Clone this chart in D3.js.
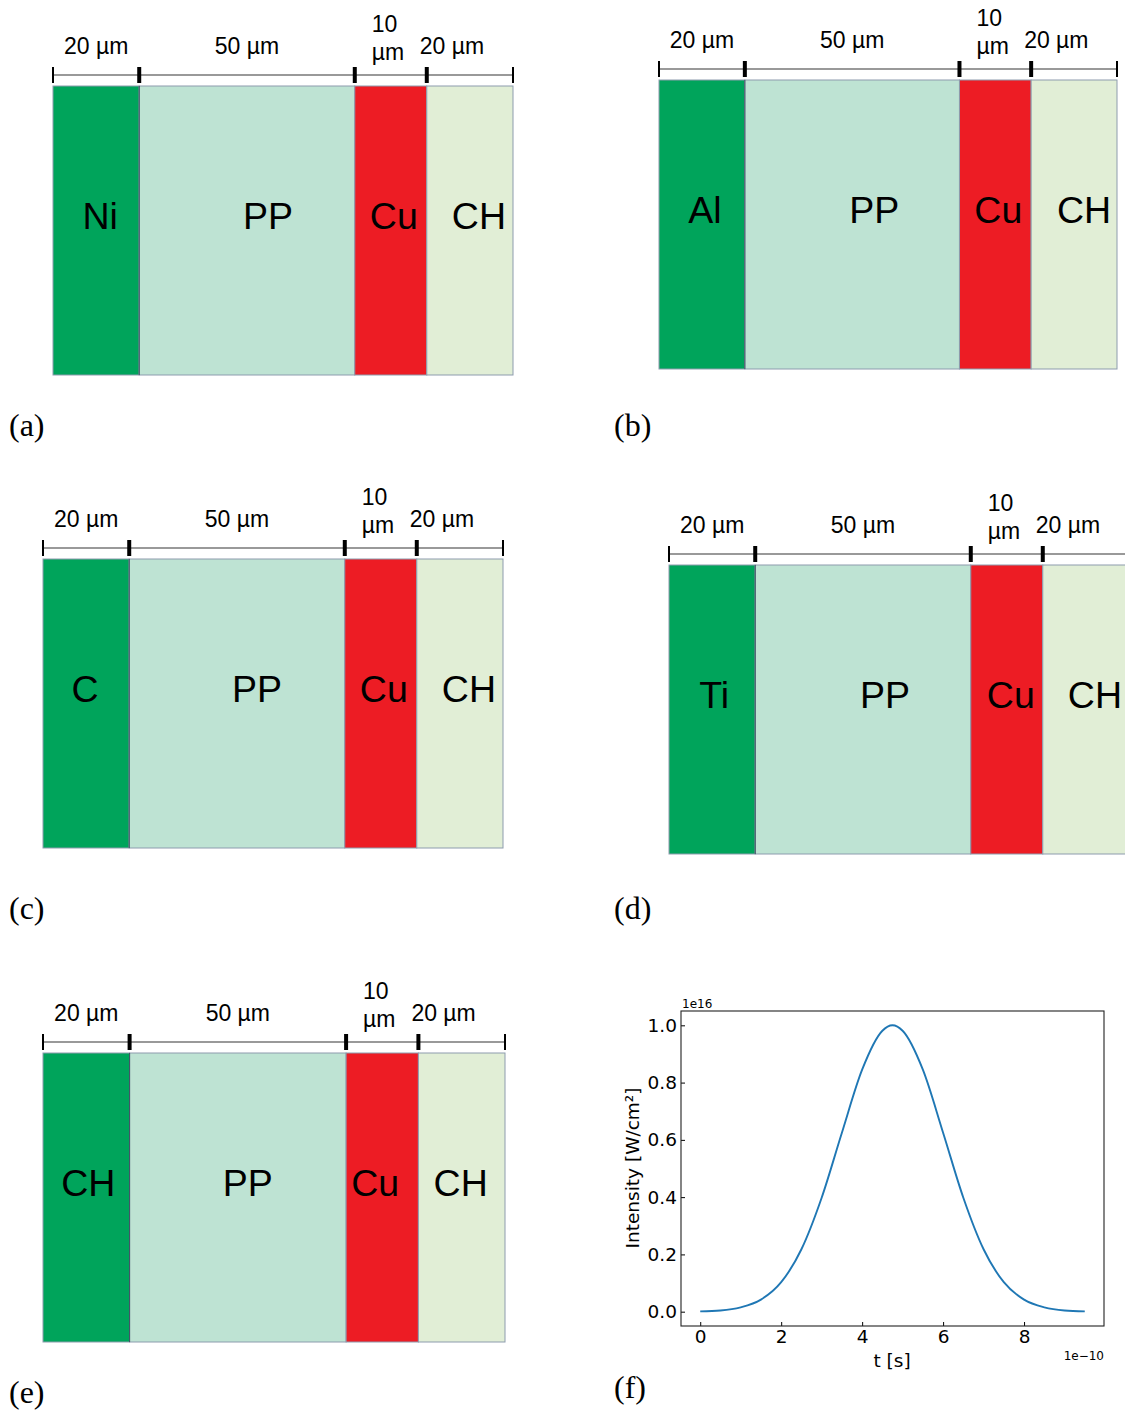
<!DOCTYPE html>
<html>
<head>
<meta charset="utf-8">
<script src="https://cdn.jsdelivr.net/npm/d3@7"></script>
<style>
  html, body { margin: 0; padding: 0; background: #fff; }
  svg { display: block; }
</style>
</head>
<body>
<svg id="chart" width="1125" height="1410"></svg>
<script>
// ---------------- data ----------------
const panelKeys = ["a", "b", "c", "d", "e"];
const frontLayers = ["Ni", "Al", "C", "Ti", "CH"];
const rearLayers = ["PP", "Cu", "CH"];
const thicknessUm = [20, 50, 10, 20];
const drawnSpan = [20, 50, 16.7, 20];   // schematic (not to scale) widths of the layers
const layerColors = ["#00a45b", "#bee3d3", "#ed1c24", "#e1eed6"];

const pulseTime = [0, 0.5, 1.0, 1.5, 2.0, 2.5, 3.0, 3.5, 4.0, 4.5, 4.75, 5.0, 5.5, 6.0, 6.5, 7.0, 7.5, 8.0, 8.5, 9.0, 9.5]; // ×1e-10 s
const pulseIntensity = [0.001, 0.004, 0.015, 0.042, 0.103, 0.218, 0.398, 0.625, 0.845, 0.981, 1.0, 0.981, 0.845, 0.625, 0.398, 0.218, 0.103, 0.042, 0.015, 0.004, 0.001]; // ×1e16 W/cm²
const xTicks = [0, 2, 4, 6, 8];
const yTicks = [0.0, 0.2, 0.4, 0.6, 0.8, 1.0];

// ---------------- layout ----------------
const svg = d3.select("#chart");
svg.append("rect").attr("width", 1125).attr("height", 1410).attr("fill", "#fff");

const panelLayout = {
  a: { x: 53, top: 86, w: 460, lab: [9, 425], shift: [4, 21, 3, 9] },
  b: { x: 659, top: 80, w: 458, lab: [614, 425], shift: [3, 22, 3, 10] },
  c: { x: 43, top: 559, w: 460, lab: [9, 908], shift: [-1, 20, 3, 9] },
  d: { x: 669, top: 565, w: 460, lab: [614, 908], shift: [2, 22, 4, 9] },
  e: { x: 43, top: 1053, w: 462, lab: [9, 1392], shift: [2, 10, -7, -1] }
};
const rectH = 289;
const sansFont = "'Liberation Sans', Arial, sans-serif";
const serifFont = "'Liberation Serif', 'Times New Roman', serif";

panelKeys.forEach((key, i) => {
  const L = panelLayout[key];
  const names = [frontLayers[i]].concat(rearLayers);
  const cum = [0];
  drawnSpan.forEach(s => cum.push(cum[cum.length - 1] + s));
  const x = d3.scaleLinear().domain([0, cum[cum.length - 1]]).range([L.x, L.x + L.w]);
  const g = svg.append("g");

  const layers = names.map((n, j) => ({
    name: n, x0: x(cum[j]), x1: x(cum[j + 1]), color: layerColors[j], t: thicknessUm[j], shift: L.shift[j]
  }));

  g.selectAll("rect.layer").data(layers).enter().append("rect")
    .attr("class", "layer")
    .attr("x", d => d.x0).attr("y", L.top)
    .attr("width", d => d.x1 - d.x0).attr("height", rectH)
    .attr("fill", d => d.color)
    .attr("stroke", "#8d9cae").attr("stroke-width", 1);

  // dark separator between first layer and PP
  g.append("line")
    .attr("x1", layers[1].x0).attr("x2", layers[1].x0)
    .attr("y1", L.top).attr("y2", L.top + rectH)
    .attr("stroke", "#3d4d60").attr("stroke-width", 1);

  // layer names
  g.selectAll("text.layername").data(layers).enter().append("text")
    .attr("x", d => (d.x0 + d.x1) / 2 + d.shift)
    .attr("y", L.top + 130)
    .attr("text-anchor", "middle").attr("dominant-baseline", "central")
    .attr("font-family", sansFont).attr("font-size", 37.5).attr("fill", "#000")
    .text(d => d.name);

  // scale bar
  const barY = L.top - 11;
  g.append("line")
    .attr("x1", L.x).attr("x2", L.x + L.w).attr("y1", barY).attr("y2", barY)
    .attr("stroke", "#777").attr("stroke-width", 1.5);
  cum.forEach((c, j) => {
    const outer = (j === 0 || j === cum.length - 1);
    g.append("line")
      .attr("x1", x(c)).attr("x2", x(c))
      .attr("y1", barY - 8).attr("y2", barY + 8)
      .attr("stroke", "#000").attr("stroke-width", outer ? 2 : 4);
  });

  // thickness labels
  layers.forEach((d, j) => {
    const txt = g.append("text")
      .attr("font-family", sansFont).attr("font-size", 23).attr("fill", "#000");
    if (j === 2) {
      txt.attr("x", d.x0 + 17).attr("text-anchor", "start");
      txt.append("tspan").attr("x", d.x0 + 17).attr("y", L.top - 62).attr("dominant-baseline", "central").text(d.t);
      txt.append("tspan").attr("x", d.x0 + 17).attr("y", L.top - 34).attr("dominant-baseline", "central").text("µm");
    } else if (j === 3) {
      txt.attr("x", d.x0 - 7).attr("y", L.top - 40).attr("text-anchor", "start")
        .attr("dominant-baseline", "central").text(d.t + " µm");
    } else {
      txt.attr("x", (d.x0 + d.x1) / 2).attr("y", L.top - 40).attr("text-anchor", "middle")
        .attr("dominant-baseline", "central").text(d.t + " µm");
    }
  });

  // panel label
  svg.append("text")
    .attr("x", L.lab[0]).attr("y", L.lab[1])
    .attr("dominant-baseline", "central")
    .attr("font-family", serifFont)
    .attr("font-size", 32).attr("fill", "#000")
    .text("(" + key + ")");
});

// ---------------- panel (f) ----------------
const fx0 = 681, fx1 = 1104, fy0 = 1011, fy1 = 1326;
const xS = d3.scaleLinear().domain([-0.475, 9.975]).range([fx0, fx1]);
const yS = d3.scaleLinear().domain([-0.05, 1.05]).range([fy1, fy0]);
const gf = svg.append("g");
const mono = "'DejaVu Sans', sans-serif";

const xAxis = d3.axisBottom(xS).tickValues(xTicks).tickFormat(d3.format("d"))
  .tickSizeInner(-4).tickSizeOuter(0).tickPadding(4);
const yAxis = d3.axisLeft(yS).tickValues(yTicks).tickFormat(d3.format(".1f"))
  .tickSizeInner(-4).tickSizeOuter(0).tickPadding(4);

const gx = gf.append("g").attr("transform", `translate(0,${fy1})`).call(xAxis);
const gy = gf.append("g").attr("transform", `translate(${fx0},0)`).call(yAxis);
[gx, gy].forEach(a => {
  a.select(".domain").remove();
  a.selectAll("text").attr("font-family", mono).attr("font-size", 18.5).attr("fill", "#000");
  a.selectAll("line").attr("stroke", "#000").attr("stroke-width", 1);
});

const pts = pulseTime.map((t, i) => [t, pulseIntensity[i]]);
gf.append("path")
  .datum(pts)
  .attr("fill", "none").attr("stroke", "#1f77b4").attr("stroke-width", 1.9)
  .attr("d", d3.line().x(d => xS(d[0])).y(d => yS(d[1])).curve(d3.curveMonotoneX));

gf.append("rect")
  .attr("x", fx0).attr("y", fy0).attr("width", fx1 - fx0).attr("height", fy1 - fy0)
  .attr("fill", "none").attr("stroke", "#222").attr("stroke-width", 1.1);

gf.append("text").attr("x", fx0 + 1).attr("y", 1004).attr("dominant-baseline", "central")
  .attr("font-family", mono).attr("font-size", 12).text("1e16");
gf.append("text").attr("x", fx1).attr("y", 1356).attr("text-anchor", "end").attr("dominant-baseline", "central")
  .attr("font-family", mono).attr("font-size", 12).text("1e\u221210");
gf.append("text").attr("x", 892).attr("y", 1360).attr("text-anchor", "middle").attr("dominant-baseline", "central")
  .attr("font-family", mono).attr("font-size", 18.5).text("t [s]");
gf.append("text").attr("transform", "translate(632,1168) rotate(-90)")
  .attr("text-anchor", "middle").attr("dominant-baseline", "central")
  .attr("font-family", mono).attr("font-size", 18.5).text("Intensity [W/cm²]");

svg.append("text")
  .attr("x", 614).attr("y", 1387).attr("dominant-baseline", "central")
  .attr("font-family", serifFont)
  .attr("font-size", 32).attr("fill", "#000").text("(f)");
</script>
</body>
</html>
